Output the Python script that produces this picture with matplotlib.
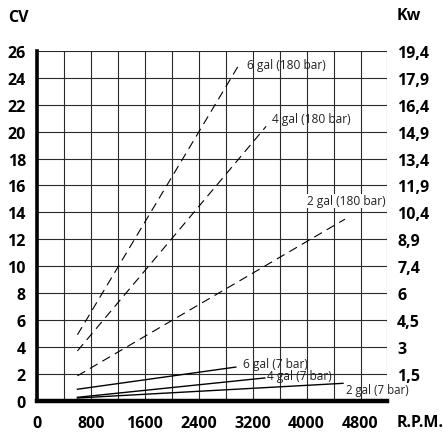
import numpy as np
import matplotlib.pyplot as plt

plt.rcParams['font.family'] = ['Open Sans', 'DejaVu Sans']

# rpm / CV values (start and end of each line)
rpm_6gal_180 = [600, 3000]
cv_6gal_180 = [4.9, 25.0]
rpm_4gal_180 = [600, 3400]
cv_4gal_180 = [3.7, 20.4]
rpm_2gal_180 = [600, 4570]
cv_2gal_180 = [1.85, 13.5]

rpm_6gal_7 = [600, 2950]
cv_6gal_7 = [0.85, 2.5]
rpm_4gal_7 = [600, 3380]
cv_4gal_7 = [0.25, 1.69]
rpm_2gal_7 = [600, 4540]
cv_2gal_7 = [0.2, 1.29]

x_ticks = [0, 800, 1600, 2400, 3200, 4000, 4800]
cv_ticks = list(range(0, 27, 2))
kw_ticks = list(range(2, 27, 2))
kw_labels = ['1,5', '3', '4,5', '6', '7,4', '8,9', '10,4', '11,9',
             '13,4', '14,9', '16,4', '17,9', '19,4']

fig = plt.figure(figsize=(4.44, 4.35), dpi=100)
ax = fig.add_axes([0.0833, 0.0766, 0.7894, 0.8039])

dash = dict(color='black', lw=0.8, ls=(0, (8, 5)))
solid = dict(color='black', lw=1.0)
ax.plot(rpm_6gal_180, cv_6gal_180, **dash)
ax.plot(rpm_4gal_180, cv_4gal_180, **dash)
ax.plot(rpm_2gal_180, cv_2gal_180, **dash)
ax.plot(rpm_6gal_7, cv_6gal_7, **solid)
ax.plot(rpm_4gal_7, cv_4gal_7, **solid)
ax.plot(rpm_2gal_7, cv_2gal_7, **solid)

lab = dict(fontsize=8.6, ha='left', va='center', color='#222222')
ax.text(3110, 25.0, '6 gal (180 bar)', **lab)
ax.text(3490, 21.0, '4 gal (180 bar)', **lab)
ax.text(4000, 14.85, '2 gal (180 bar)', clip_on=False,
        bbox=dict(facecolor='white', edgecolor='none', pad=0.5), **lab)
ax.text(3050, 2.8, '6 gal (7 bar)', **lab)
ax.text(3410, 1.86, '4 gal (7 bar)', **lab)
ax.text(4580, 0.82, '2 gal (7 bar)', fontsize=8.3, ha='left', va='center',
        color='#222222', clip_on=False)

ax.set_xlim(0, 5200)
ax.set_ylim(0, 26)
ax.set_xticks(x_ticks)
ax.set_xticks(np.arange(0, 5201, 400), minor=True)
ax.set_yticks(cv_ticks)
ax.grid(which='both', color='#2a2a2a', lw=0.8)
ax.set_axisbelow(True)
ax.tick_params(which='both', length=0)
ax.tick_params(axis='x', pad=10, labelsize=11.5)
ax.tick_params(axis='y', pad=8, labelsize=11.5)
for t in ax.get_xticklabels() + ax.get_yticklabels():
    t.set_fontweight('bold')

for s in ['top', 'right']:
    ax.spines[s].set_visible(False)
ax.spines['left'].set_linewidth(2.6)
ax.spines['bottom'].set_linewidth(3.2)

ax2 = ax.twinx()
ax2.set_ylim(0, 26)
ax2.set_yticks(kw_ticks)
ax2.set_yticklabels(kw_labels, fontweight='bold')
ax2.tick_params(length=0, pad=7, labelsize=11.5)
for s in ax2.spines.values():
    s.set_visible(False)

fig.text(8 / 444, 1 - 18 / 435, 'CV', fontsize=11.5, fontweight='bold', va='center')
fig.text(397 / 444, 1 - 16 / 435, 'Kw', fontsize=11.5, fontweight='bold', va='center')
fig.text(397 / 444, 1 - 423 / 435, 'R.P.M.', fontsize=11.5, fontweight='bold', va='center')

fig.savefig('out.png', dpi=100)
